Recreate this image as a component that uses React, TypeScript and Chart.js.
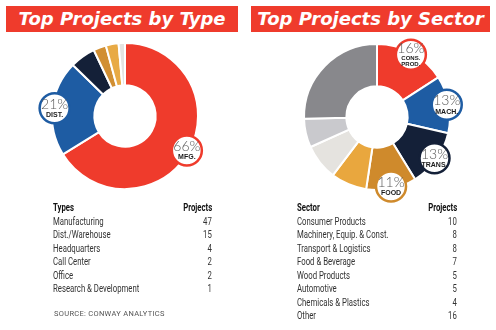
import React, { useEffect, useRef } from "react";
import { Chart, registerables } from "chart.js";

Chart.register(...registerables);

const typeLabels = ["Manufacturing", "Dist./Warehouse", "Headquarters", "Call Center", "Office", "Research & Development"];
const typeProjects = [47, 15, 4, 2, 2, 1];
const typeShort: string[][] = [["MFG."], ["DIST."]];
const typeColors = ["#ef3b2c", "#1e5ca3", "#142038", "#d18f33", "#e8aa45", "#e4e3e1"];

const sectorLabels = [
  "Consumer Products",
  "Machinery, Equip. & Const.",
  "Transport & Logistics",
  "Food & Beverage",
  "Wood Products",
  "Automotive",
  "Chemicals & Plastics",
  "Other",
];
const sectorProjects = [10, 8, 8, 7, 5, 5, 4, 16];
const sectorShort: string[][] = [["CONS.", "PROD."], ["MACH."], ["TRANS."], ["FOOD"]];
const sectorColors = ["#ef3b2c", "#1e5ca3", "#142038", "#cf8a2c", "#e9a73e", "#e5e3df", "#c9c9cd", "#88888c"];

const labelPlugin = {
  id: "bubbleLabels",
  afterDatasetsDraw(chart: any) {
    const short: string[][] = chart.options.plugins.bubbleLabels.short;
    const ds = chart.data.datasets[0];
    const values: number[] = ds.data;
    const total = values.reduce((a, b) => a + b, 0);
    const meta = chart.getDatasetMeta(0);
    const ctx = chart.ctx;
    meta.data.forEach((arc: any, i: number) => {
      const lines = short[i];
      if (!lines) return;
      const p = arc.getProps(["x", "y", "startAngle", "endAngle", "outerRadius"], true);
      const mid = (p.startAngle + p.endAngle) / 2;
      const r = p.outerRadius * 0.97;
      const cx = p.x + Math.cos(mid) * r;
      const cy = p.y + Math.sin(mid) * r;
      ctx.save();
      ctx.beginPath();
      ctx.arc(cx, cy, 15, 0, Math.PI * 2);
      ctx.fillStyle = "#ffffff";
      ctx.fill();
      ctx.lineWidth = 2.5;
      ctx.strokeStyle = ds.backgroundColor[i];
      ctx.stroke();
      ctx.textAlign = "center";
      ctx.textBaseline = "middle";
      const pct = Math.round((values[i] / total) * 100) + "%";
      ctx.fillStyle = "#5a5a5a";
      ctx.font = "300 14px Lato, 'Open Sans', sans-serif";
      if (lines.length === 1) {
        ctx.fillText(pct, cx, cy - 4);
        ctx.fillStyle = "#1a1a1a";
        ctx.font = "bold 7px 'Liberation Sans', Arial, sans-serif";
        ctx.fillText(lines[0], cx, cy + 7);
      } else {
        ctx.fillText(pct, cx, cy - 6);
        ctx.fillStyle = "#1a1a1a";
        ctx.font = "bold 6px 'Liberation Sans', Arial, sans-serif";
        ctx.fillText(lines[0], cx, cy + 4);
        ctx.fillText(lines[1], cx, cy + 10);
      }
      ctx.restore();
    });
  },
};

function Donut(props: { labels: string[]; values: number[]; colors: string[]; short: string[][]; left: number; top: number }) {
  const ref = useRef<HTMLCanvasElement>(null);
  useEffect(() => {
    const chart = new Chart(ref.current as HTMLCanvasElement, {
      type: "doughnut",
      data: {
        labels: props.labels,
        datasets: [
          {
            data: props.values,
            backgroundColor: props.colors,
            borderColor: "#ffffff",
            borderWidth: 2,
          },
        ],
      },
      options: {
        animation: false,
        responsive: false,
        devicePixelRatio: 1,
        cutout: "42%",
        layout: { padding: 26 },
        plugins: {
          legend: { display: false },
          tooltip: { enabled: false },
          bubbleLabels: { short: props.short },
        } as any,
      },
      plugins: [labelPlugin],
    });
    return () => chart.destroy();
  }, []);
  return (
    <canvas
      ref={ref}
      width={200}
      height={200}
      style={{ position: "absolute", left: props.left, top: props.top, width: 200, height: 200 }}
    />
  );
}

const condensed: React.CSSProperties = {
  fontFamily: "Roboto, 'Liberation Sans', sans-serif",
  fontSize: 10.5,
  color: "#333",
  whiteSpace: "nowrap",
  display: "inline-block",
  transform: "scaleX(0.74)",
  transformOrigin: "left center",
};

function Table(props: { head: string; labels: string[]; values: number[]; left: number; right: number; top: number }) {
  const rowH = 13.5;
  const rows = [props.head, ...props.labels];
  return (
    <div>
      {rows.map((lab, i) => {
        const isHead = i === 0;
        const val = isHead ? "Projects" : String(props.values[i - 1]);
        const y = props.top + i * rowH;
        return (
          <React.Fragment key={i}>
            <div style={{ position: "absolute", left: props.left, top: y, lineHeight: "12px", height: 12 }}>
              <span style={{ ...condensed, fontWeight: isHead ? 700 : 400, color: isHead ? "#111" : "#333" }}>{lab}</span>
            </div>
            <div
              style={{
                position: "absolute",
                right: 496 - props.right,
                top: y,
                lineHeight: "12px",
                height: 12,
              }}
            >
              <span
                style={{
                  ...condensed,
                  transformOrigin: "right center",
                  fontWeight: isHead ? 700 : 400,
                  color: isHead ? "#111" : "#333",
                }}
              >
                {val}
              </span>
            </div>
          </React.Fragment>
        );
      })}
    </div>
  );
}

function Title(props: { text: string; left: number; width: number }) {
  return (
    <div
      style={{
        position: "absolute",
        left: props.left,
        top: 6,
        width: props.width,
        height: 26,
        background: "#ef3b2c",
        color: "#ffffff",
        fontFamily: "'DejaVu Sans', Verdana, sans-serif",
        fontWeight: 700,
        fontStyle: "italic",
        fontSize: 18,
        lineHeight: "26px",
        textAlign: "center",
        whiteSpace: "nowrap",
        overflow: "hidden",
      }}
    >
      {props.text}
    </div>
  );
}

export default function App() {
  useEffect(() => {
    document.body.style.margin = "0";
  }, []);
  return (
    <div style={{ position: "relative", width: 496, height: 330, background: "#ffffff", overflow: "hidden" }}>
      <Donut labels={typeLabels} values={typeProjects} colors={typeColors} short={typeShort} left={25} top={16} />
      <Donut labels={sectorLabels} values={sectorProjects} colors={sectorColors} short={sectorShort} left={277} top={17} />
      <Title text="Top Projects by Type" left={6} width={232} />
      <Title text="Top Projects by Sector" left={251} width={239} />
      <Table head="Types" labels={typeLabels} values={typeProjects} left={53} right={212} top={200} />
      <Table head="Sector" labels={sectorLabels} values={sectorProjects} left={297} right={457} top={200} />
      <div
        style={{
          position: "absolute",
          left: 54,
          top: 309,
          fontFamily: "Roboto, 'Liberation Sans', sans-serif",
          fontSize: 7.5,
          color: "#555",
          letterSpacing: 0.3,
          whiteSpace: "nowrap",
        }}
      >
        SOURCE: CONWAY ANALYTICS
      </div>
    </div>
  );
}
